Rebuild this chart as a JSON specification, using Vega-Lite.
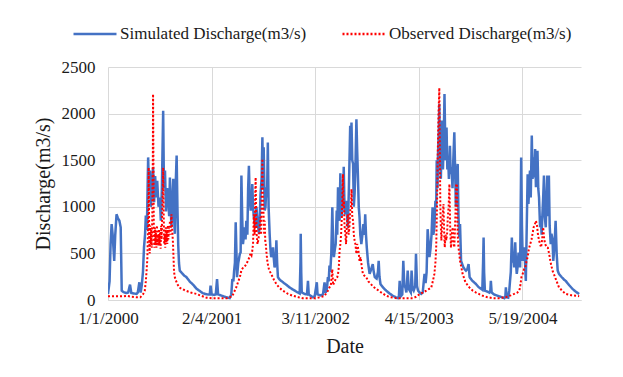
{
  "$schema": "https://vega.github.io/schema/vega-lite/v6.json",
  "width": 473,
  "height": 233,
  "autosize": {"type": "none"},
  "padding": {"left": 108, "top": 67, "right": 42, "bottom": 77},
  "background": "white",
  "config": {
    "font": "Liberation Serif",
    "view": {"stroke": null},
    "axis": {"labelFont": "Liberation Serif", "titleFont": "Liberation Serif", "labelColor": "#1a1a1a", "titleColor": "#1a1a1a", "titleFontWeight": "normal", "gridColor": "#d9d9d9", "gridWidth": 1, "ticks": false},
    "legend": {"labelFont": "Liberation Serif"},
    "text": {"font": "Liberation Serif"}
  },
  "datasets": {
    "sim": [
      {"d":0,"q":65},{"d":6,"q":200},{"d":10,"q":600},{"d":14,"q":815},{"d":18,"q":700},{"d":24,"q":420},{"d":28,"q":700},{"d":33,"q":920},{"d":38,"q":880},{"d":44,"q":850},{"d":49,"q":780},{"d":53,"q":100},{"d":60,"q":85},{"d":70,"q":75},{"d":78,"q":80},{"d":85,"q":165},{"d":90,"q":75},{"d":100,"q":70},{"d":110,"q":65},{"d":115,"q":80},{"d":121,"q":190},{"d":126,"q":80},{"d":130,"q":150},{"d":135,"q":300},{"d":139,"q":565},{"d":143,"q":700},{"d":146,"q":905},{"d":150,"q":750},{"d":155,"q":1530},{"d":158,"q":1200},{"d":162,"q":1390},{"d":165,"q":1000},{"d":168,"q":1100},{"d":171,"q":1300},{"d":174,"q":1420},{"d":178,"q":1050},{"d":182,"q":1330},{"d":186,"q":1100},{"d":190,"q":1280},{"d":195,"q":1000},{"d":200,"q":1100},{"d":204,"q":850},{"d":208,"q":1200},{"d":213,"q":2030},{"d":216,"q":1200},{"d":220,"q":1390},{"d":224,"q":950},{"d":228,"q":1200},{"d":232,"q":1140},{"d":236,"q":900},{"d":239,"q":1315},{"d":242,"q":1000},{"d":245,"q":780},{"d":249,"q":1100},{"d":252,"q":1300},{"d":255,"q":900},{"d":258,"q":710},{"d":262,"q":1300},{"d":265,"q":1550},{"d":268,"q":1000},{"d":271,"q":600},{"d":274,"q":400},{"d":277,"q":315},{"d":285,"q":290},{"d":295,"q":260},{"d":303,"q":245},{"d":315,"q":200},{"d":330,"q":160},{"d":342,"q":120},{"d":355,"q":95},{"d":365,"q":75},{"d":375,"q":65},{"d":385,"q":60},{"d":393,"q":60},{"d":396,"q":155},{"d":400,"q":60},{"d":410,"q":55},{"d":416,"q":60},{"d":421,"q":225},{"d":425,"q":60},{"d":440,"q":45},{"d":455,"q":30},{"d":470,"q":20},{"d":476,"q":60},{"d":480,"q":225},{"d":484,"q":200},{"d":487,"q":315},{"d":490,"q":400},{"d":493,"q":835},{"d":496,"q":500},{"d":498,"q":245},{"d":503,"q":400},{"d":509,"q":495},{"d":512,"q":510},{"d":515,"q":1335},{"d":518,"q":900},{"d":521,"q":600},{"d":525,"q":700},{"d":528,"q":780},{"d":531,"q":650},{"d":534,"q":850},{"d":538,"q":700},{"d":541,"q":1200},{"d":544,"q":1440},{"d":547,"q":1100},{"d":551,"q":960},{"d":554,"q":1000},{"d":557,"q":1245},{"d":560,"q":1000},{"d":563,"q":890},{"d":567,"q":820},{"d":570,"q":780},{"d":573,"q":1000},{"d":575,"q":920},{"d":579,"q":800},{"d":583,"q":710},{"d":586,"q":900},{"d":589,"q":1140},{"d":593,"q":1300},{"d":596,"q":1745},{"d":599,"q":1200},{"d":601,"q":1640},{"d":603,"q":1300},{"d":605,"q":960},{"d":608,"q":1000},{"d":611,"q":1210},{"d":614,"q":1100},{"d":617,"q":1690},{"d":620,"q":1000},{"d":624,"q":710},{"d":627,"q":550},{"d":630,"q":460},{"d":633,"q":500},{"d":637,"q":565},{"d":640,"q":450},{"d":643,"q":350},{"d":647,"q":400},{"d":650,"q":640},{"d":653,"q":400},{"d":656,"q":245},{"d":662,"q":220},{"d":669,"q":205},{"d":680,"q":180},{"d":690,"q":160},{"d":701,"q":135},{"d":715,"q":110},{"d":730,"q":85},{"d":740,"q":70},{"d":743,"q":400},{"d":744,"q":710},{"d":746,"q":300},{"d":748,"q":80},{"d":760,"q":65},{"d":768,"q":60},{"d":772,"q":205},{"d":775,"q":60},{"d":785,"q":40},{"d":791,"q":30},{"d":798,"q":40},{"d":806,"q":190},{"d":809,"q":60},{"d":820,"q":50},{"d":830,"q":60},{"d":836,"q":190},{"d":840,"q":80},{"d":845,"q":120},{"d":849,"q":245},{"d":852,"q":200},{"d":855,"q":370},{"d":858,"q":300},{"d":862,"q":495},{"d":866,"q":995},{"d":869,"q":600},{"d":872,"q":460},{"d":876,"q":550},{"d":879,"q":600},{"d":883,"q":960},{"d":885,"q":700},{"d":888,"q":1210},{"d":891,"q":900},{"d":894,"q":850},{"d":897,"q":1360},{"d":900,"q":1000},{"d":903,"q":900},{"d":905,"q":1140},{"d":908,"q":1000},{"d":910,"q":1430},{"d":913,"q":1000},{"d":916,"q":920},{"d":920,"q":1065},{"d":923,"q":900},{"d":926,"q":780},{"d":930,"q":1200},{"d":933,"q":1600},{"d":935,"q":1870},{"d":937,"q":1500},{"d":940,"q":1905},{"d":943,"q":1500},{"d":946,"q":1460},{"d":949,"q":1000},{"d":952,"q":1140},{"d":955,"q":1400},{"d":959,"q":1940},{"d":962,"q":1600},{"d":965,"q":1315},{"d":968,"q":1000},{"d":971,"q":890},{"d":974,"q":700},{"d":978,"q":600},{"d":982,"q":700},{"d":986,"q":815},{"d":990,"q":700},{"d":993,"q":920},{"d":996,"q":700},{"d":999,"q":565},{"d":1004,"q":400},{"d":1010,"q":280},{"d":1016,"q":330},{"d":1022,"q":385},{"d":1026,"q":300},{"d":1030,"q":245},{"d":1037,"q":230},{"d":1042,"q":300},{"d":1045,"q":420},{"d":1048,"q":250},{"d":1052,"q":170},{"d":1060,"q":140},{"d":1074,"q":100},{"d":1087,"q":70},{"d":1100,"q":45},{"d":1110,"q":30},{"d":1119,"q":20},{"d":1123,"q":40},{"d":1126,"q":205},{"d":1130,"q":40},{"d":1136,"q":60},{"d":1140,"q":420},{"d":1144,"q":150},{"d":1148,"q":135},{"d":1152,"q":80},{"d":1157,"q":315},{"d":1161,"q":120},{"d":1165,"q":100},{"d":1169,"q":80},{"d":1172,"q":315},{"d":1176,"q":120},{"d":1180,"q":100},{"d":1186,"q":150},{"d":1189,"q":495},{"d":1193,"q":150},{"d":1197,"q":100},{"d":1203,"q":80},{"d":1209,"q":65},{"d":1215,"q":80},{"d":1219,"q":200},{"d":1222,"q":280},{"d":1226,"q":180},{"d":1230,"q":300},{"d":1234,"q":760},{"d":1238,"q":600},{"d":1241,"q":460},{"d":1245,"q":550},{"d":1249,"q":700},{"d":1253,"q":995},{"d":1256,"q":700},{"d":1260,"q":780},{"d":1264,"q":1065},{"d":1267,"q":1000},{"d":1269,"q":1500},{"d":1272,"q":1200},{"d":1274,"q":1565},{"d":1277,"q":1800},{"d":1279,"q":2105},{"d":1282,"q":1500},{"d":1285,"q":1300},{"d":1287,"q":1600},{"d":1290,"q":1925},{"d":1293,"q":1400},{"d":1296,"q":1700},{"d":1299,"q":2210},{"d":1303,"q":1500},{"d":1307,"q":1850},{"d":1310,"q":1400},{"d":1313,"q":1530},{"d":1316,"q":1300},{"d":1320,"q":1655},{"d":1323,"q":1350},{"d":1326,"q":1425},{"d":1330,"q":1200},{"d":1333,"q":1500},{"d":1337,"q":1800},{"d":1340,"q":1400},{"d":1343,"q":1000},{"d":1347,"q":1300},{"d":1350,"q":1460},{"d":1353,"q":900},{"d":1356,"q":670},{"d":1359,"q":815},{"d":1363,"q":420},{"d":1368,"q":380},{"d":1372,"q":350},{"d":1377,"q":330},{"d":1382,"q":315},{"d":1387,"q":330},{"d":1392,"q":385},{"d":1396,"q":245},{"d":1405,"q":210},{"d":1413,"q":190},{"d":1421,"q":170},{"d":1430,"q":140},{"d":1440,"q":120},{"d":1445,"q":110},{"d":1448,"q":400},{"d":1450,"q":670},{"d":1452,"q":300},{"d":1455,"q":100},{"d":1465,"q":90},{"d":1472,"q":80},{"d":1476,"q":100},{"d":1478,"q":205},{"d":1481,"q":80},{"d":1490,"q":60},{"d":1504,"q":45},{"d":1515,"q":35},{"d":1530,"q":20},{"d":1534,"q":40},{"d":1536,"q":135},{"d":1539,"q":30},{"d":1545,"q":25},{"d":1549,"q":100},{"d":1552,"q":205},{"d":1555,"q":300},{"d":1559,"q":670},{"d":1562,"q":400},{"d":1565,"q":495},{"d":1568,"q":350},{"d":1572,"q":620},{"d":1575,"q":400},{"d":1578,"q":280},{"d":1581,"q":350},{"d":1585,"q":510},{"d":1588,"q":400},{"d":1591,"q":350},{"d":1595,"q":1530},{"d":1598,"q":800},{"d":1601,"q":420},{"d":1604,"q":500},{"d":1607,"q":565},{"d":1610,"q":400},{"d":1613,"q":205},{"d":1616,"q":700},{"d":1620,"q":1350},{"d":1623,"q":1030},{"d":1626,"q":1200},{"d":1629,"q":1390},{"d":1632,"q":1100},{"d":1636,"q":1765},{"d":1639,"q":1300},{"d":1642,"q":1530},{"d":1645,"q":1315},{"d":1649,"q":1620},{"d":1652,"q":1210},{"d":1655,"q":1400},{"d":1658,"q":1600},{"d":1661,"q":1200},{"d":1664,"q":1100},{"d":1668,"q":780},{"d":1671,"q":900},{"d":1674,"q":700},{"d":1677,"q":920},{"d":1680,"q":1100},{"d":1683,"q":1335},{"d":1686,"q":900},{"d":1690,"q":780},{"d":1693,"q":1100},{"d":1696,"q":1335},{"d":1699,"q":900},{"d":1702,"q":1335},{"d":1705,"q":800},{"d":1709,"q":600},{"d":1712,"q":710},{"d":1716,"q":650},{"d":1719,"q":420},{"d":1724,"q":600},{"d":1728,"q":850},{"d":1732,"q":500},{"d":1736,"q":315},{"d":1741,"q":280},{"d":1750,"q":250},{"d":1760,"q":220},{"d":1767,"q":205},{"d":1780,"q":160},{"d":1793,"q":120},{"d":1805,"q":90},{"d":1819,"q":65}
    ],
    "obs": [
      {"d":0,"q":40},{"d":20,"q":40},{"d":40,"q":40},{"d":60,"q":40},{"d":72,"q":45},{"d":90,"q":35},{"d":110,"q":30},{"d":125,"q":30},{"d":135,"q":60},{"d":142,"q":100},{"d":146,"q":200},{"d":149,"q":315},{"d":152,"q":450},{"d":154,"q":700},{"d":156,"q":1000},{"d":157,"q":1420},{"d":159,"q":700},{"d":161,"q":500},{"d":163,"q":800},{"d":165,"q":600},{"d":167,"q":760},{"d":169,"q":560},{"d":171,"q":900},{"d":173,"q":1500},{"d":174,"q":2210},{"d":176,"q":1200},{"d":177,"q":700},{"d":179,"q":560},{"d":181,"q":780},{"d":183,"q":600},{"d":185,"q":720},{"d":187,"q":560},{"d":189,"q":800},{"d":191,"q":620},{"d":193,"q":700},{"d":195,"q":580},{"d":197,"q":760},{"d":199,"q":600},{"d":201,"q":720},{"d":203,"q":550},{"d":205,"q":800},{"d":207,"q":650},{"d":209,"q":900},{"d":211,"q":1100},{"d":213,"q":1420},{"d":215,"q":900},{"d":217,"q":600},{"d":219,"q":700},{"d":221,"q":560},{"d":223,"q":780},{"d":225,"q":620},{"d":227,"q":740},{"d":229,"q":600},{"d":231,"q":800},{"d":233,"q":650},{"d":235,"q":780},{"d":237,"q":700},{"d":239,"q":850},{"d":241,"q":700},{"d":243,"q":800},{"d":245,"q":920},{"d":247,"q":800},{"d":249,"q":700},{"d":251,"q":600},{"d":253,"q":450},{"d":255,"q":300},{"d":258,"q":245},{"d":262,"q":210},{"d":268,"q":170},{"d":275,"q":135},{"d":285,"q":120},{"d":300,"q":100},{"d":320,"q":80},{"d":342,"q":65},{"d":360,"q":45},{"d":380,"q":25},{"d":400,"q":20},{"d":420,"q":20},{"d":440,"q":20},{"d":460,"q":20},{"d":480,"q":40},{"d":486,"q":80},{"d":495,"q":135},{"d":503,"q":200},{"d":509,"q":245},{"d":515,"q":320},{"d":522,"q":350},{"d":528,"q":360},{"d":534,"q":385},{"d":540,"q":420},{"d":546,"q":460},{"d":550,"q":500},{"d":554,"q":480},{"d":557,"q":530},{"d":560,"q":600},{"d":563,"q":920},{"d":566,"q":700},{"d":568,"q":1100},{"d":570,"q":1315},{"d":572,"q":900},{"d":574,"q":700},{"d":577,"q":600},{"d":580,"q":640},{"d":583,"q":700},{"d":586,"q":800},{"d":589,"q":890},{"d":591,"q":700},{"d":593,"q":1000},{"d":596,"q":1515},{"d":598,"q":1100},{"d":600,"q":960},{"d":603,"q":700},{"d":605,"q":850},{"d":607,"q":640},{"d":609,"q":600},{"d":612,"q":500},{"d":615,"q":420},{"d":617,"q":385},{"d":622,"q":320},{"d":630,"q":280},{"d":640,"q":220},{"d":650,"q":170},{"d":662,"q":130},{"d":675,"q":100},{"d":695,"q":65},{"d":714,"q":45},{"d":735,"q":30},{"d":752,"q":20},{"d":780,"q":20},{"d":804,"q":20},{"d":820,"q":30},{"d":836,"q":45},{"d":849,"q":100},{"d":855,"q":135},{"d":860,"q":150},{"d":866,"q":330},{"d":869,"q":160},{"d":875,"q":200},{"d":880,"q":230},{"d":885,"q":245},{"d":888,"q":280},{"d":891,"q":350},{"d":894,"q":530},{"d":897,"q":600},{"d":900,"q":710},{"d":903,"q":900},{"d":905,"q":1100},{"d":907,"q":1350},{"d":909,"q":1000},{"d":911,"q":1065},{"d":913,"q":800},{"d":916,"q":710},{"d":919,"q":600},{"d":922,"q":800},{"d":926,"q":920},{"d":929,"q":700},{"d":932,"q":780},{"d":935,"q":950},{"d":938,"q":1000},{"d":940,"q":1190},{"d":943,"q":900},{"d":946,"q":850},{"d":949,"q":700},{"d":952,"q":640},{"d":955,"q":600},{"d":959,"q":495},{"d":962,"q":600},{"d":965,"q":565},{"d":968,"q":500},{"d":971,"q":420},{"d":975,"q":460},{"d":980,"q":350},{"d":984,"q":280},{"d":990,"q":260},{"d":997,"q":245},{"d":1005,"q":200},{"d":1015,"q":170},{"d":1025,"q":140},{"d":1035,"q":120},{"d":1050,"q":90},{"d":1074,"q":45},{"d":1090,"q":30},{"d":1113,"q":20},{"d":1140,"q":20},{"d":1177,"q":20},{"d":1190,"q":35},{"d":1203,"q":65},{"d":1215,"q":80},{"d":1229,"q":100},{"d":1240,"q":120},{"d":1248,"q":135},{"d":1254,"q":200},{"d":1260,"q":280},{"d":1264,"q":400},{"d":1267,"q":565},{"d":1270,"q":995},{"d":1273,"q":1565},{"d":1276,"q":2000},{"d":1279,"q":2275},{"d":1281,"q":1600},{"d":1283,"q":1000},{"d":1285,"q":780},{"d":1287,"q":640},{"d":1290,"q":800},{"d":1292,"q":900},{"d":1295,"q":1030},{"d":1298,"q":700},{"d":1300,"q":565},{"d":1303,"q":700},{"d":1306,"q":640},{"d":1309,"q":710},{"d":1312,"q":900},{"d":1315,"q":1000},{"d":1318,"q":1245},{"d":1321,"q":780},{"d":1324,"q":560},{"d":1327,"q":700},{"d":1331,"q":780},{"d":1334,"q":600},{"d":1337,"q":565},{"d":1341,"q":890},{"d":1344,"q":1245},{"d":1347,"q":1245},{"d":1350,"q":700},{"d":1353,"q":565},{"d":1356,"q":500},{"d":1359,"q":420},{"d":1364,"q":350},{"d":1369,"q":280},{"d":1380,"q":190},{"d":1395,"q":135},{"d":1408,"q":100},{"d":1421,"q":80},{"d":1435,"q":60},{"d":1447,"q":45},{"d":1465,"q":30},{"d":1485,"q":20},{"d":1510,"q":20},{"d":1536,"q":30},{"d":1555,"q":50},{"d":1568,"q":65},{"d":1580,"q":80},{"d":1588,"q":100},{"d":1592,"q":160},{"d":1596,"q":245},{"d":1601,"q":280},{"d":1606,"q":330},{"d":1611,"q":350},{"d":1616,"q":420},{"d":1620,"q":460},{"d":1625,"q":550},{"d":1630,"q":600},{"d":1635,"q":650},{"d":1639,"q":710},{"d":1643,"q":780},{"d":1647,"q":800},{"d":1652,"q":850},{"d":1656,"q":800},{"d":1660,"q":700},{"d":1664,"q":640},{"d":1668,"q":600},{"d":1672,"q":565},{"d":1676,"q":650},{"d":1680,"q":780},{"d":1684,"q":650},{"d":1688,"q":600},{"d":1693,"q":565},{"d":1698,"q":560},{"d":1703,"q":495},{"d":1709,"q":400},{"d":1716,"q":315},{"d":1724,"q":260},{"d":1732,"q":200},{"d":1741,"q":135},{"d":1755,"q":95},{"d":1767,"q":65},{"d":1790,"q":50},{"d":1806,"q":45},{"d":1819,"q":40}
    ]
  },
  "encoding": {
    "x": {
      "field": "d", "type": "quantitative",
      "scale": {"domain": [0, 1826], "nice": false, "zero": false},
      "axis": {
        "title": "Date", "titleFont": "Liberation Serif", "titleFontSize": 20, "titlePadding": 10,
        "values": [0, 400, 800, 1200, 1600],
        "labelExpr": "timeFormat(datetime(2000, 0, 1 + datum.value), '%-m/%-d/%Y')",
        "labelFont": "Liberation Serif", "labelFontSize": 17, "labelPadding": 10,
        "domainColor": "#d9d9d9", "domainWidth": 1, "grid": true, "labelFlush": false
      }
    },
    "y": {
      "field": "q", "type": "quantitative",
      "scale": {"domain": [0, 2500], "nice": false},
      "axis": {
        "title": "Discharge(m3/s)", "titleFont": "Liberation Serif", "titleFontSize": 20, "titlePadding": 8,
        "values": [0, 500, 1000, 1500, 2000, 2500], "format": "d",
        "labelFont": "Liberation Serif", "labelFontSize": 17, "labelPadding": 13, "domain": false, "grid": true
      }
    }
  },
  "layer": [
    {
      "data": {"name": "sim"},
      "mark": {"type": "line", "strokeWidth": 2.5, "clip": true},
      "encoding": {
        "color": {"datum": "Simulated Discharge(m3/s)", "type": "nominal",
          "scale": {"domain": ["Simulated Discharge(m3/s)", "Observed Discharge(m3/s)"], "range": ["#4472C4", "#FF0000"]},
          "legend": {"orient": "none", "legendX": -36, "legendY": -56, "direction": "horizontal", "title": null, "symbolType": "stroke", "symbolSize": 1849, "symbolStrokeWidth": 2.5, "labelFont": "Liberation Serif", "labelFontSize": 17, "labelColor": "#1a1a1a", "labelOffset": 2, "columnPadding": 30, "padding": 0, "labelLimit": 400}},
        "strokeDash": {"datum": "Simulated Discharge(m3/s)", "type": "nominal",
          "scale": {"domain": ["Simulated Discharge(m3/s)", "Observed Discharge(m3/s)"], "range": [[1, 0], [2, 2]]}}
      }
    },
    {
      "data": {"name": "obs"},
      "mark": {"type": "line", "strokeWidth": 2, "clip": true},
      "encoding": {
        "color": {"datum": "Observed Discharge(m3/s)", "type": "nominal"},
        "strokeDash": {"datum": "Observed Discharge(m3/s)", "type": "nominal"}
      }
    }
  ]
}
